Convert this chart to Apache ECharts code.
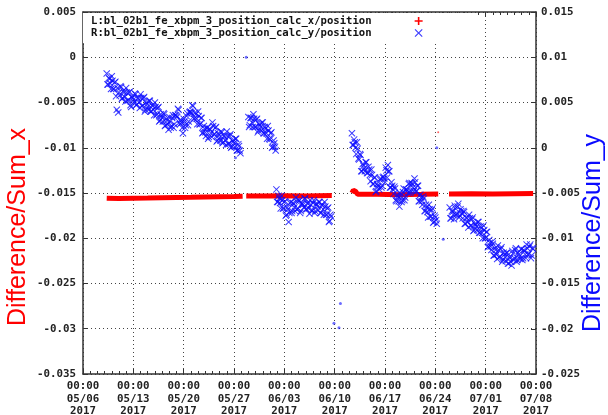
<!DOCTYPE html>
<html><head><meta charset="utf-8">
<script src="https://cdn.jsdelivr.net/npm/echarts@6/dist/echarts.min.js"></script>
<style>html,body{margin:0;padding:0;background:#fff}#c{width:608px;height:415px}</style>
</head><body><div id="c"></div>
<script>
// ---- data ----
const seriesNames = ['L:bl_02b1_fe_xbpm_3_position_calc_x/position', 'R:bl_02b1_fe_xbpm_3_position_calc_y/position'];
const axisTitles = ['Difference/Sum_x', 'Difference/Sum_y'];
const startDateUTC = Date.UTC(2017, 4, 6); // 2017-05-06 00:00, x values are days from here
const xRangeDays = [0, 63];
const xTickDays = 7;
const leftAxisRange = [-0.035, 0.005];
const rightAxisRange = [-0.025, 0.015];
const yTick = 0.005;

// Left series (x): [day, value], null = gap
const redPoints = [
  [3.3,-0.01558],[5,-0.01562],[7,-0.01558],[9,-0.01556],[11,-0.01552],[13,-0.0155],[15,-0.01548],[17,-0.01545],[19,-0.01542],[21,-0.0154],[22.2,-0.01537], null,
  [22.7,-0.01533],[25,-0.01533],[28,-0.0153],[31,-0.01532],[34.6,-0.01528], null,
  [37.4,-0.0150],[37.6,-0.0147],[37.9,-0.0148],[38.2,-0.01515],[41,-0.01515],[44,-0.01518],[47,-0.01515],[49.4,-0.01512], null,
  [50.9,-0.0151],[54,-0.01508],[57,-0.0151],[60,-0.01507],[62.6,-0.01505]
];
const redStray = [[49.4,-0.0083]];

// Right series (y): clusters sampled every 0.2 day (two interleaved passes)
const blueClusterStarts = [3.3, 23.0, 26.9, 37.4, 51.0, 3.4, 23.1, 27.0, 37.5, 51.1];
const blueSampleStep = 0.2;
const blueA = [0.0082,0.0070,0.0076,0.0065,0.0074,0.0065,0.0073,0.0042,0.0039,0.0058,
  0.0067,0.0055,0.0061,0.0051,0.0061,0.0053,0.0062,0.0045,0.0055,0.0050,
  0.0059,0.0048,0.0054,0.0044,0.0055,0.0047,0.0056,0.0042,0.0048,0.0042,
  0.0052,0.0040,0.0046,0.0036,0.0045,0.0037,0.0045,0.0030,0.0035,0.0029,
  0.0037,0.0025,0.0030,0.0020,0.0029,0.0024,0.0036,0.0026,0.0036,0.0034,
  0.0042,0.0026,0.0028,0.0016,0.0029,0.0025,0.0038,0.0029,0.0040,0.0038,
  0.0046,0.0032,0.0037,0.0026,0.0035,0.0026,0.0033,0.0017,0.0021,0.0013,
  0.0022,0.0012,0.0020,0.0012,0.0024,0.0015,0.0023,0.0008,0.0014,0.0008,
  0.0017,0.0006,0.0012,0.0003,0.0013,0.0005,0.0015,0.0001,0.0007,0.0001,
  0.0010,-0.0003,0.0002,-0.0006];
const blueB = [0.0034,0.0025,0.0033,0.0023,0.0032,0.0023,0.0032,0.0019,0.0025,0.0019,
  0.0028,0.0016,0.0021,0.0010,0.0019,0.0009,0.0017,0.0001,0.0005,-0.0003];
const blueC = [-0.0046,-0.0060,-0.0056,-0.0067,-0.0058,-0.0067,-0.0059,-0.0074,-0.0068,-0.0072,
  -0.0060,-0.0070,-0.0062,-0.0070,-0.0059,-0.0067,-0.0058,-0.0070,-0.0062,-0.0066,
  -0.0056,-0.0068,-0.0062,-0.0073,-0.0063,-0.0069,-0.0058,-0.0070,-0.0063,-0.0069,
  -0.0060,-0.0072,-0.0064,-0.0074,-0.0065,-0.0074,-0.0066,-0.0081,-0.0076];
const blueD = [0.0016,0.0003,0.0006,-0.0007,-0.0001,-0.0013,-0.0008,-0.0026,-0.0020,-0.0026,
  -0.0016,-0.0028,-0.0024,-0.0037,-0.0030,-0.0040,-0.0033,-0.0048,-0.0042,-0.0046,
  -0.0034,-0.0042,-0.0032,-0.0038,-0.0025,-0.0019,-0.0026,-0.0044,-0.0042,-0.0051,
  -0.0045,-0.0059,-0.0054,-0.0065,-0.0053,-0.0058,-0.0045,-0.0055,-0.0046,-0.0050,
  -0.0039,-0.0048,-0.0040,-0.0048,-0.0038,-0.0048,-0.0042,-0.0059,-0.0055,-0.0063,
  -0.0056,-0.0070,-0.0066,-0.0077,-0.0068,-0.0076,-0.0067,-0.0082,-0.0077,-0.0084];
const blueE = [-0.0066,-0.0078,-0.0071,-0.0079,-0.0067,-0.0073,-0.0062,-0.0075,-0.0070,-0.0078,
  -0.0071,-0.0084,-0.0078,-0.0088,-0.0078,-0.0086,-0.0077,-0.0091,-0.0085,-0.0091,
  -0.0082,-0.0094,-0.0089,-0.0100,-0.0091,-0.0100,-0.0093,-0.0109,-0.0105,-0.0113,
  -0.0106,-0.0119,-0.0113,-0.0123,-0.0113,-0.0120,-0.0110,-0.0124,-0.0118,-0.0125,
  -0.0116,-0.0128,-0.0122,-0.0130,-0.0117,-0.0122,-0.0111,-0.0124,-0.0118,-0.0123,
  -0.0112,-0.0122,-0.0114,-0.0122,-0.0111,-0.0117,-0.0107,-0.0119,-0.0112];
const blueA2 = [0.0070,0.0077,0.0071,0.0079,0.0065,0.0072,0.0057,0.0066,0.0061,0.0068,
  0.0054,0.0063,0.0056,0.0066,0.0052,0.0061,0.0047,0.0056,0.0053,0.0060,
  0.0047,0.0055,0.0050,0.0059,0.0046,0.0055,0.0040,0.0050,0.0045,0.0052,
  0.0040,0.0047,0.0042,0.0050,0.0036,0.0044,0.0029,0.0037,0.0033,0.0038,
  0.0024,0.0032,0.0026,0.0034,0.0022,0.0033,0.0022,0.0036,0.0035,0.0043,
  0.0028,0.0031,0.0022,0.0032,0.0022,0.0035,0.0025,0.0039,0.0039,0.0047,
  0.0032,0.0039,0.0032,0.0040,0.0026,0.0033,0.0016,0.0024,0.0017,0.0022,
  0.0010,0.0021,0.0016,0.0028,0.0015,0.0022,0.0007,0.0016,0.0011,0.0018,
  0.0005,0.0013,0.0008,0.0018,0.0004,0.0013,0.0000,0.0008,0.0005,0.0010,
  -0.0003,0.0004,-0.0003];
const blueB2 = [0.0023,0.0033,0.0028,0.0037,0.0023,0.0031,0.0017,0.0026,0.0023,0.0028,
  0.0016,0.0023,0.0016,0.0024,0.0010,0.0016,0.0000,0.0008,0.0001];
const blueC2 = [-0.0060,-0.0053,-0.0061,-0.0053,-0.0067,-0.0060,-0.0075,-0.0066,-0.0082,-0.0061,
  -0.0072,-0.0061,-0.0066,-0.0055,-0.0068,-0.0059,-0.0072,-0.0062,-0.0063,-0.0056,
  -0.0068,-0.0061,-0.0067,-0.0058,-0.0070,-0.0061,-0.0072,-0.0062,-0.0065,-0.0060,
  -0.0072,-0.0063,-0.0068,-0.0060,-0.0074,-0.0067,-0.0082,-0.0074];
const blueD2 = [0.0003,0.0009,0.0000,0.0006,-0.0012,-0.0007,-0.0026,-0.0018,-0.0023,-0.0016,
  -0.0028,-0.0021,-0.0030,-0.0024,-0.0040,-0.0033,-0.0049,-0.0040,-0.0043,-0.0035,
  -0.0044,-0.0033,-0.0034,-0.0022,-0.0033,-0.0026,-0.0044,-0.0038,-0.0046,-0.0043,
  -0.0058,-0.0052,-0.0059,-0.0050,-0.0060,-0.0049,-0.0058,-0.0046,-0.0047,-0.0040,
  -0.0050,-0.0039,-0.0044,-0.0034,-0.0048,-0.0042,-0.0059,-0.0052,-0.0059,-0.0054,
  -0.0070,-0.0063,-0.0071,-0.0063,-0.0076,-0.0069,-0.0083,-0.0075,-0.0080];
const blueE2 = [-0.0078,-0.0070,-0.0074,-0.0064,-0.0074,-0.0065,-0.0077,-0.0068,-0.0073,-0.0070,
  -0.0084,-0.0077,-0.0082,-0.0074,-0.0086,-0.0079,-0.0092,-0.0084,-0.0087,-0.0082,
  -0.0094,-0.0087,-0.0094,-0.0086,-0.0100,-0.0093,-0.0110,-0.0102,-0.0109,-0.0104,
  -0.0119,-0.0111,-0.0118,-0.0108,-0.0121,-0.0112,-0.0126,-0.0116,-0.0121,-0.0116,
  -0.0128,-0.0121,-0.0126,-0.0114,-0.0124,-0.0113,-0.0126,-0.0116,-0.0120,-0.0112,
  -0.0124,-0.0113,-0.0118,-0.0107,-0.0118,-0.0109,-0.0122,-0.0111];
const blueStray = [[22.7,0.0100],[49.2,0.0000],[21.2,-0.0011],[34.9,-0.0194],[35.6,-0.0199],[35.8,-0.0172],[50.1,-0.0101]];

// ---- build ----
const blueClusters = [blueA, blueB, blueC, blueD, blueE, blueA2, blueB2, blueC2, blueD2, blueE2];
const bluePoints = [];
blueClusters.forEach((vals, k) => {
  vals.forEach((v, i) => bluePoints.push([+(blueClusterStarts[k] + i * blueSampleStep).toFixed(2), v]));
});

const PLUS = 'path://M4,0H6V4H10V6H6V10H4V6H0V4H4Z';
const CROSS = 'path://M0,1L1,0L5,4L9,0L10,1L6,5L10,9L9,10L5,6L1,10L0,9L4,5Z';
const MONO = '"DejaVu Sans Mono", "Liberation Mono", monospace';
const SANS = '"Liberation Sans", Arial, sans-serif';
const RED = '#ff0000', BLUE = '#0a0aff', FRAME = '#333';
const pad2 = n => (n < 10 ? '0' : '') + n;
const dateLabel = v => {
  const d = new Date(startDateUTC + v * 86400000);
  return '00:00\n' + pad2(d.getUTCMonth() + 1) + '/' + pad2(d.getUTCDate()) + '\n' + d.getUTCFullYear();
};
const tickFont = {fontFamily: MONO, fontWeight: 'bold', fontSize: 10.8, color: '#222'};

const chart = echarts.init(document.getElementById('c'), null, {renderer: 'canvas'});
chart.setOption({
  animation: false,
  backgroundColor: '#fff',
  grid: {left: 83, right: 72, top: 12, bottom: 41, containLabel: false, outerBoundsMode: 'none'},
  legend: {
    orient: 'vertical', left: 83, top: 13, align: 'right',
    padding: [2, 50, 4, 8], itemGap: 0, itemWidth: 8, itemHeight: 8,
    backgroundColor: '#fff',
    textStyle: {fontFamily: MONO, fontWeight: 'bold', fontSize: 10.6, color: '#111', lineHeight: 12, padding: [0, 38, 0, 0]},
    data: [{name: seriesNames[0], icon: PLUS}, {name: seriesNames[1], icon: CROSS}]
  },
  xAxis: [{
    type: 'value', min: xRangeDays[0], max: xRangeDays[1], interval: xTickDays,
    axisLine: {show: true, onZero: false, lineStyle: {color: FRAME, width: 1.5}},
    axisTick: {show: true, inside: true, length: 5, lineStyle: {color: FRAME}},
    minorTick: {show: true, splitNumber: 7, length: 3, lineStyle: {color: FRAME}},
    axisLabel: Object.assign({margin: 6, lineHeight: 12.5, formatter: dateLabel}, tickFont),
    splitLine: {show: true, lineStyle: {color: '#444', type: [1, 3], width: 1}}
  }, {
    type: 'value', position: 'top', min: xRangeDays[0], max: xRangeDays[1], interval: xTickDays,
    axisLine: {show: true, onZero: false, lineStyle: {color: FRAME, width: 1.5}},
    axisTick: {show: true, inside: true, length: 5, lineStyle: {color: FRAME}},
    minorTick: {show: true, splitNumber: 7, length: 3, lineStyle: {color: FRAME}},
    axisLabel: {show: false}, splitLine: {show: false}
  }],
  yAxis: [{
    type: 'value', min: leftAxisRange[0], max: leftAxisRange[1], interval: yTick,
    name: axisTitles[0], nameLocation: 'middle', nameGap: 52, nameRotate: 90, nameMoveOverlap: false,
    nameTextStyle: {color: RED, fontSize: 25, fontFamily: SANS, padding: [0, 68, 0, 0]},
    axisLine: {show: true, onZero: false, lineStyle: {color: FRAME, width: 1.5}},
    axisTick: {show: true, inside: true, length: 5, lineStyle: {color: FRAME}},
    axisLabel: Object.assign({margin: 7}, tickFont),
    splitLine: {show: true, lineStyle: {color: '#444', type: [1, 3], width: 1}}
  }, {
    type: 'value', position: 'right', min: rightAxisRange[0], max: rightAxisRange[1], interval: yTick,
    name: axisTitles[1], nameLocation: 'middle', nameGap: 45, nameRotate: 90, nameMoveOverlap: false,
    nameTextStyle: {color: BLUE, fontSize: 25, fontFamily: SANS, padding: [0, 80, 0, 0]},
    axisLine: {show: true, onZero: false, lineStyle: {color: FRAME, width: 1.5}},
    axisTick: {show: true, inside: true, length: 5, lineStyle: {color: FRAME}},
    axisLabel: Object.assign({margin: 5}, tickFont),
    splitLine: {show: false}
  }],
  series: [{
    name: seriesNames[0], type: 'line', xAxisIndex: 0, yAxisIndex: 0,
    data: redPoints, showSymbol: false, symbol: 'none', connectNulls: false,
    color: RED, itemStyle: {color: RED}, lineStyle: {color: RED, width: 5}, z: 3
  }, {
    name: seriesNames[1], type: 'scatter', xAxisIndex: 0, yAxisIndex: 1,
    data: bluePoints, symbol: CROSS, symbolSize: 7,
    color: BLUE, itemStyle: {color: BLUE, opacity: 0.8}, z: 4
  }, {
    name: 'redStray', type: 'scatter', yAxisIndex: 0, data: redStray, symbolSize: 2,
    itemStyle: {color: RED, opacity: 0.6}
  }, {
    name: 'blueStray', type: 'scatter', yAxisIndex: 1, data: blueStray, symbolSize: 3,
    itemStyle: {color: BLUE, opacity: 0.6}
  }]
});
</script>
</body></html>
